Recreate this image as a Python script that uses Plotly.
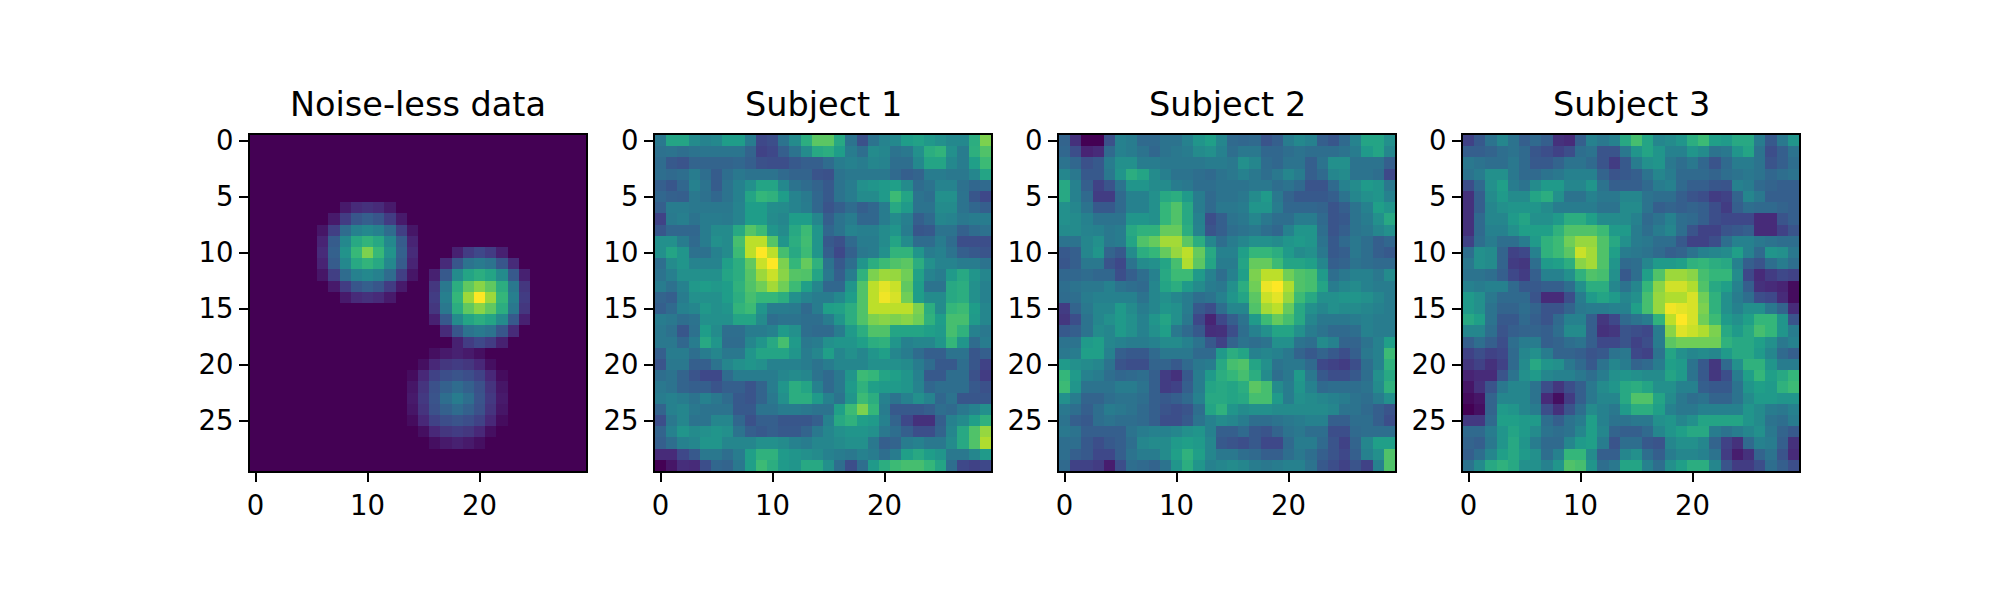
import plotly.graph_objects as go

titles = ["Noise-less data", "Subject 1", "Subject 2", "Subject 3"]
x_ticks = [0, 10, 20]
y_ticks = [0, 5, 10, 15, 20, 25]
cells = list(range(30))

noiseless = [
[0,0,0,0,0,0,0,0,0,0,0,0,0,0,0,0,0,0,0,0,0,0,0,0,0,0,0,0,0,0],
[0,0,0,0,0,0,0,0,0,0,0,0,0,0,0,0,0,0,0,0,0,0,0,0,0,0,0,0,0,0],
[0,0,0,0,0,0,0,0,0,0,0,0,0,0,0,0,0,0,0,0,0,0,0,0,0,0,0,0,0,0],
[0,0,0,0,0,0,0,0,0,0,0,0,0,0,0,0,0,0,0,0,0,0,0,0,0,0,0,0,0,0],
[0,0,0,0,0,0,0,0,0,0,0,0,0,0,0,0,0,0,0,0,0,0,0,0,0,0,0,0,0,0],
[0,0,0,0,0,0,0,0,0,0,0,0,0,0,0,0,0,0,0,0,0,0,0,0,0,0,0,0,0,0],
[0,0,0,0,0,0,0,0,7,12,14,12,7,0,0,0,0,0,0,0,0,0,0,0,0,0,0,0,0,0],
[0,0,0,0,0,0,0,7,18,27,30,27,18,7,0,0,0,0,0,0,0,0,0,0,0,0,0,0,0,0],
[0,0,0,0,0,0,6,19,35,44,47,44,35,19,6,0,0,0,0,0,0,0,0,0,0,0,0,0,0,0],
[0,0,0,0,0,0,10,29,47,60,65,60,47,29,10,0,0,0,0,0,0,0,0,0,0,0,0,0,0,0],
[0,0,0,0,0,0,12,31,51,67,80,67,51,31,12,0,0,0,9,18,22,18,9,0,0,0,0,0,0,0],
[0,0,0,0,0,0,10,29,47,60,65,60,47,29,10,0,0,12,27,38,41,38,27,12,0,0,0,0,0,0],
[0,0,0,0,0,0,6,19,35,44,47,44,35,19,6,0,9,28,48,58,62,58,48,28,9,0,0,0,0,0],
[0,0,0,0,0,0,0,7,18,27,30,27,18,7,0,0,16,40,62,75,82,75,62,40,16,0,0,0,0,0],
[0,0,0,0,0,0,0,0,7,12,14,12,7,0,0,0,18,43,66,85,100,85,66,43,18,0,0,0,0,0],
[0,0,0,0,0,0,0,0,0,0,0,0,0,0,0,0,16,40,62,75,82,75,62,40,16,0,0,0,0,0],
[0,0,0,0,0,0,0,0,0,0,0,0,0,0,0,0,9,28,48,58,62,58,48,28,9,0,0,0,0,0],
[0,0,0,0,0,0,0,0,0,0,0,0,0,0,0,0,0,12,27,38,41,38,27,12,0,0,0,0,0,0],
[0,0,0,0,0,0,0,0,0,0,0,0,0,0,0,0,0,0,9,18,22,18,9,0,0,0,0,0,0,0],
[0,0,0,0,0,0,0,0,0,0,0,0,0,0,0,0,4,7,9,7,4,0,0,0,0,0,0,0,0,0],
[0,0,0,0,0,0,0,0,0,0,0,0,0,0,0,4,11,16,18,16,11,4,0,0,0,0,0,0,0,0],
[0,0,0,0,0,0,0,0,0,0,0,0,0,0,3,11,20,24,26,24,20,11,3,0,0,0,0,0,0,0],
[0,0,0,0,0,0,0,0,0,0,0,0,0,0,6,15,25,31,35,31,25,15,6,0,0,0,0,0,0,0],
[0,0,0,0,0,0,0,0,0,0,0,0,0,0,7,17,26,36,42,36,26,17,7,0,0,0,0,0,0,0],
[0,0,0,0,0,0,0,0,0,0,0,0,0,0,6,15,25,31,35,31,25,15,6,0,0,0,0,0,0,0],
[0,0,0,0,0,0,0,0,0,0,0,0,0,0,3,11,20,24,26,24,20,11,3,0,0,0,0,0,0,0],
[0,0,0,0,0,0,0,0,0,0,0,0,0,0,0,4,11,16,18,16,11,4,0,0,0,0,0,0,0,0],
[0,0,0,0,0,0,0,0,0,0,0,0,0,0,0,0,4,7,9,7,4,0,0,0,0,0,0,0,0,0],
[0,0,0,0,0,0,0,0,0,0,0,0,0,0,0,0,0,0,0,0,0,0,0,0,0,0,0,0,0,0],
[0,0,0,0,0,0,0,0,0,0,0,0,0,0,0,0,0,0,0,0,0,0,0,0,0,0,0,0,0,0],
]

subject1 = [
[40,58,58,48,45,47,55,55,42,22,24,38,48,62,74,74,60,38,25,38,45,47,55,57,53,50,47,47,62,80],
[37,38,36,38,39,39,39,39,32,20,22,30,38,48,60,62,55,42,36,48,46,38,40,50,62,65,50,42,63,72],
[35,28,26,32,32,32,32,33,30,25,24,24,28,30,30,35,42,44,42,46,45,36,36,47,58,58,47,42,56,68],
[36,34,36,42,36,29,36,40,38,38,38,34,32,32,26,25,38,40,40,40,40,34,30,32,42,42,40,40,46,58],
[30,27,33,44,38,29,38,44,50,58,58,47,38,35,32,28,38,42,50,52,54,56,48,35,38,45,45,37,33,34],
[33,31,30,40,37,33,38,44,58,66,64,55,45,41,33,28,38,42,48,48,54,68,58,38,36,50,50,38,27,22],
[30,42,42,40,40,40,40,45,55,55,49,48,45,42,33,26,30,35,30,33,42,60,54,38,38,48,48,38,33,30],
[20,41,43,38,42,42,41,45,55,55,48,46,55,55,46,30,38,42,33,33,42,48,43,30,34,46,45,40,42,42],
[27,33,33,33,42,48,48,60,73,68,52,48,60,68,52,33,38,45,43,43,48,52,42,27,28,38,38,31,35,37],
[50,50,42,34,42,50,48,70,90,90,73,52,62,69,52,28,25,34,42,42,48,58,48,35,35,42,35,24,24,24],
[50,58,52,37,37,44,48,68,90,100,90,70,60,68,52,30,22,31,40,42,50,65,65,52,42,44,38,30,28,26],
[36,48,52,45,45,45,56,62,75,92,100,80,66,76,64,38,28,36,52,62,68,72,74,62,50,45,45,42,42,38],
[38,43,50,50,50,50,58,62,73,85,92,82,73,72,58,40,30,42,64,80,85,84,78,57,45,42,54,60,52,46],
[42,37,44,53,55,53,55,64,72,78,86,78,68,56,46,33,33,52,72,90,96,92,75,55,38,38,60,62,50,44],
[32,30,42,50,50,50,55,62,70,66,66,62,50,45,42,42,47,55,72,90,98,94,78,55,48,48,60,62,50,44],
[30,34,44,46,53,50,52,65,68,52,42,42,41,34,42,56,57,62,72,90,90,90,90,80,62,48,66,68,55,46],
[42,40,36,38,50,50,50,58,58,48,36,38,38,36,36,42,52,62,72,80,82,80,82,78,64,55,70,70,54,46],
[40,37,27,37,55,48,36,36,42,42,44,54,50,36,34,34,42,54,62,72,72,58,58,58,56,54,70,64,44,40],
[40,40,33,42,60,52,35,35,46,52,60,70,54,40,42,50,52,52,56,62,64,52,44,46,46,52,66,52,35,42],
[30,42,42,36,42,46,40,40,52,58,58,58,52,42,46,56,46,50,46,52,56,46,42,35,30,30,38,38,27,30],
[26,40,40,30,30,38,46,50,52,50,44,44,44,42,38,42,46,46,46,50,50,50,48,42,35,28,28,36,27,20],
[36,38,32,26,22,22,35,42,42,42,42,46,48,46,38,34,40,52,68,66,58,56,52,44,28,28,36,36,25,18],
[40,38,32,30,30,26,30,30,26,32,42,52,62,58,44,34,40,54,64,56,54,54,52,45,33,36,36,36,28,25],
[42,44,42,38,44,40,35,28,26,32,40,50,62,62,54,44,38,52,68,62,44,38,44,50,45,33,38,27,27,27],
[32,44,46,40,38,38,38,28,28,38,38,42,42,40,38,38,56,68,80,66,42,28,28,28,30,36,34,40,44,50],
[24,40,46,38,38,46,46,33,25,30,30,27,27,27,30,44,60,64,56,54,44,32,22,14,14,30,44,48,56,64],
[32,44,52,48,50,52,50,38,30,28,30,28,28,32,40,46,50,52,52,50,40,36,30,24,24,32,46,60,72,84],
[30,36,44,46,52,52,46,46,46,50,50,48,44,42,46,46,48,50,50,40,30,32,42,44,40,40,48,60,72,88],
[12,12,22,28,40,40,36,42,56,64,64,54,52,50,48,44,42,40,44,42,36,42,56,60,55,52,40,40,46,54],
[0,6,13,12,24,33,32,40,56,68,62,54,52,60,60,50,36,24,36,54,62,68,70,70,66,58,36,22,20,22],
]

subject2 = [
[32,14,0,0,25,44,42,34,34,38,38,44,52,56,46,34,33,34,26,30,42,47,44,30,27,34,45,58,58,50],
[33,24,10,12,34,44,42,38,33,38,40,42,48,50,44,36,40,40,33,33,36,38,36,36,36,38,42,54,58,46],
[38,33,25,28,42,50,50,42,42,40,40,40,40,42,42,40,50,46,35,33,38,38,30,38,50,50,38,38,38,30],
[46,40,28,28,40,52,62,58,48,43,38,38,36,34,38,40,44,40,36,40,46,42,30,34,46,48,38,38,36,22],
[60,44,30,20,26,38,52,52,48,48,42,40,36,36,38,38,38,40,40,36,38,34,26,26,34,44,48,54,52,40],
[60,44,34,18,18,34,44,44,50,60,62,54,42,34,38,38,40,48,54,40,32,28,28,28,30,38,46,50,52,44],
[50,46,38,28,28,34,44,44,50,66,72,60,42,34,40,40,42,52,52,42,33,33,33,32,26,30,38,44,56,52],
[50,48,44,38,38,38,52,52,50,66,72,60,44,24,30,38,40,46,40,36,36,42,42,34,26,28,38,42,50,60],
[48,48,45,44,40,42,60,64,64,76,76,62,45,26,30,36,38,40,36,33,44,52,52,36,26,30,38,40,46,50],
[38,38,46,50,40,42,58,72,76,86,86,74,62,46,36,42,46,50,50,48,52,54,52,38,28,34,40,36,30,33],
[28,30,46,52,32,28,48,62,66,76,84,90,76,60,44,44,56,66,66,62,54,48,50,40,28,30,40,36,30,28],
[27,30,40,40,26,22,38,48,50,58,70,88,74,58,42,42,58,76,76,68,58,58,56,46,30,32,38,36,34,34],
[33,33,35,33,33,24,30,36,44,60,68,68,54,44,36,44,56,80,90,90,78,72,70,54,36,40,44,44,40,48],
[36,38,40,40,44,38,36,34,46,58,62,54,48,42,40,50,62,78,97,100,88,72,70,58,42,46,48,44,42,42],
[35,36,42,44,44,44,44,38,46,50,46,42,36,38,44,52,58,74,92,96,84,68,60,50,50,52,52,50,46,42],
[18,32,40,46,46,54,48,42,46,52,50,42,28,24,36,46,46,72,86,90,76,60,50,46,50,48,48,46,44,42],
[16,24,38,46,50,54,50,44,52,58,50,40,22,10,22,30,38,54,68,76,70,60,46,40,40,40,42,44,42,42],
[28,30,38,48,46,54,50,44,50,56,40,34,28,13,14,24,36,44,50,58,58,50,42,38,34,34,36,44,42,42],
[38,38,54,56,46,44,42,42,44,48,48,44,38,28,20,32,38,36,38,50,50,38,36,48,44,32,32,38,44,56],
[40,42,56,56,44,30,28,28,34,40,40,40,34,34,54,62,58,44,46,44,40,32,28,32,28,24,30,40,44,68],
[54,50,48,46,38,26,24,24,32,32,28,34,40,42,60,70,72,58,50,38,40,40,34,22,20,18,24,36,44,64],
[66,54,44,42,36,33,34,36,30,18,14,28,42,54,62,66,70,62,48,36,40,54,40,28,24,24,28,36,50,60],
[68,52,38,38,38,42,42,38,30,18,20,30,42,58,60,58,62,74,70,48,42,52,44,34,36,36,36,38,48,64],
[50,42,32,32,36,38,38,36,30,28,30,34,44,60,60,58,60,70,70,54,42,50,48,46,44,42,38,36,42,50],
[40,36,30,36,42,40,38,34,30,26,24,26,36,58,64,52,48,50,50,48,48,48,48,48,46,38,38,34,30,26],
[38,30,28,36,38,36,36,34,30,24,24,28,38,44,48,46,42,36,36,38,40,42,44,44,30,30,36,36,30,24],
[40,38,30,30,30,30,38,42,44,44,46,50,52,44,30,30,34,28,26,32,38,40,36,36,24,24,34,36,36,36],
[36,36,28,24,28,30,36,46,48,48,54,56,54,46,28,26,24,28,22,22,34,42,42,34,26,20,32,46,56,56],
[36,30,28,22,22,30,38,42,42,48,56,64,56,46,40,40,36,34,30,30,36,40,36,30,26,22,30,44,50,72],
[34,20,20,18,8,24,36,34,32,38,52,62,52,44,46,48,46,42,40,42,44,44,38,28,24,20,26,20,44,72],
]

subject3 = [
[20,28,38,46,38,30,34,30,14,12,30,44,40,44,60,70,58,46,48,52,62,68,56,54,60,60,42,28,40,52],
[30,30,32,36,38,34,27,24,20,24,36,38,26,26,40,52,58,52,44,44,52,48,38,40,52,58,38,24,30,38],
[40,38,36,36,40,34,28,28,32,38,38,34,26,18,28,42,50,52,40,36,40,33,26,34,42,42,38,26,30,36],
[38,42,50,50,40,34,34,38,40,44,44,44,32,26,28,30,38,46,42,34,34,34,32,36,38,40,38,33,36,38],
[24,34,50,56,42,38,48,54,54,46,46,52,38,30,30,30,34,42,44,34,30,30,27,26,44,42,34,32,30,30],
[14,30,48,54,48,48,58,62,50,38,38,44,40,40,46,46,38,36,36,30,26,24,18,20,32,46,40,30,30,30],
[14,30,46,50,52,52,52,48,42,42,42,42,38,38,48,48,38,30,32,30,32,30,24,18,30,36,34,34,32,30],
[14,34,46,46,54,58,50,50,54,62,62,56,48,48,48,44,34,38,44,36,34,30,24,22,22,22,12,12,26,30],
[14,34,44,44,50,56,56,56,64,72,72,72,68,54,54,42,36,42,46,36,26,20,20,26,28,30,12,12,20,26],
[20,36,42,36,36,42,54,64,68,78,84,84,72,60,50,42,40,36,36,28,20,20,24,36,44,44,40,38,36,36],
[36,50,48,32,20,22,44,64,68,74,92,86,72,56,42,40,38,34,30,32,38,44,46,48,56,44,34,52,50,40],
[40,50,48,32,18,16,36,54,56,62,82,86,72,52,34,36,46,54,54,56,64,66,62,60,44,30,26,36,42,36],
[38,38,36,30,22,18,30,44,44,50,64,72,70,50,28,36,56,72,85,85,82,70,66,66,48,22,12,18,22,20],
[44,42,44,44,34,28,28,30,30,36,50,62,62,46,38,46,66,82,93,93,88,72,60,56,44,30,14,12,10,3],
[54,50,40,34,34,34,26,12,12,24,42,54,58,54,46,50,70,84,88,88,94,78,64,50,42,36,24,22,12,3],
[54,50,38,32,32,36,32,26,26,32,40,42,42,44,44,56,70,84,98,96,94,80,64,50,44,50,50,40,32,12],
[60,56,38,28,28,34,30,26,34,44,44,30,16,22,34,38,42,64,90,100,94,78,68,54,50,56,66,66,52,26],
[46,46,36,26,30,32,32,30,36,48,48,30,14,16,26,24,22,42,82,95,92,88,80,60,54,60,70,66,52,42],
[30,36,30,24,36,42,42,30,32,36,38,30,22,22,26,20,24,42,74,78,78,78,78,64,60,60,56,50,40,44],
[20,24,20,22,34,46,50,42,32,32,30,26,28,38,40,22,20,38,58,50,46,48,46,54,60,60,54,46,34,30],
[16,20,14,20,34,48,60,52,50,40,34,28,38,46,42,32,34,42,56,54,38,28,16,34,50,64,64,52,42,42],
[10,12,12,26,38,50,54,46,44,44,40,36,42,50,52,50,48,48,58,54,38,28,16,24,42,56,66,56,60,66],
[6,14,26,40,46,46,38,24,16,24,30,40,48,52,60,62,58,50,50,44,44,30,28,28,38,52,56,54,64,68],
[3,6,32,46,46,46,38,12,4,18,30,40,46,46,60,72,72,58,48,40,36,38,32,32,38,48,54,54,52,52],
[0,4,32,54,52,46,42,24,14,26,36,48,44,40,54,62,62,56,44,40,40,44,44,44,44,52,48,42,40,44],
[17,17,34,56,56,54,54,36,30,38,42,56,44,38,38,40,40,50,52,46,50,58,58,58,58,52,48,38,36,42],
[34,34,42,52,58,54,48,38,36,38,46,56,46,32,30,30,34,46,52,56,60,60,42,38,42,46,50,40,32,28],
[32,30,40,52,60,52,42,34,34,46,54,56,42,26,36,36,28,26,46,50,50,46,32,20,14,34,44,42,30,14],
[30,36,46,56,60,54,50,36,44,66,66,48,30,30,46,50,36,30,42,46,46,44,38,18,8,14,32,38,26,12],
[38,48,60,64,60,50,50,44,52,72,70,52,36,40,58,58,44,36,50,56,62,62,46,26,18,18,24,36,30,24],
]

panels = [noiseless, subject1, subject2, subject3]
lefts = [0.125, 0.3275, 0.5295, 0.7315]
panel_width = 0.168
bottom, top = 0.215, 0.775

fig = go.Figure()
for i, (z, title) in enumerate(zip(panels, titles)):
    n = "" if i == 0 else str(i + 1)
    fig.add_trace(go.Heatmap(z=z, x=cells, y=cells, xaxis=f"x{n}", yaxis=f"y{n}",
                             colorscale="Viridis", zmin=0, zmax=100,
                             showscale=False, hoverongaps=False))
    common = dict(showgrid=False, zeroline=False, showline=True, mirror=True,
                  linecolor="black", linewidth=2, ticks="outside", ticklen=9,
                  tickwidth=2, tickcolor="black",
                  tickfont=dict(family="DejaVu Sans", size=27.5, color="black"))
    fig.update_layout({
        f"xaxis{n}": dict(domain=[lefts[i], lefts[i] + panel_width], range=[-0.5, 29.5],
                          anchor=f"y{n}", tickmode="array", tickvals=x_ticks, **common),
        f"yaxis{n}": dict(domain=[bottom, top], range=[29.5, -0.5],
                          anchor=f"x{n}", tickmode="array", tickvals=y_ticks, **common),
    })
    fig.add_annotation(text=title, xref=f"x{n} domain", yref=f"y{n} domain", x=0.5, y=1.0,
                       yshift=9, xanchor="center", yanchor="bottom", showarrow=False,
                       font=dict(family="DejaVu Sans", size=33.5, color="black"))

fig.update_layout(width=2000, height=600,
                  margin=dict(l=0, r=0, t=0, b=0, autoexpand=False),
                  paper_bgcolor="white", plot_bgcolor="white", autosize=False)
fig.write_html("out.html", config={"displayModeBar": False},
               post_script="document.body.style.margin='0';")
